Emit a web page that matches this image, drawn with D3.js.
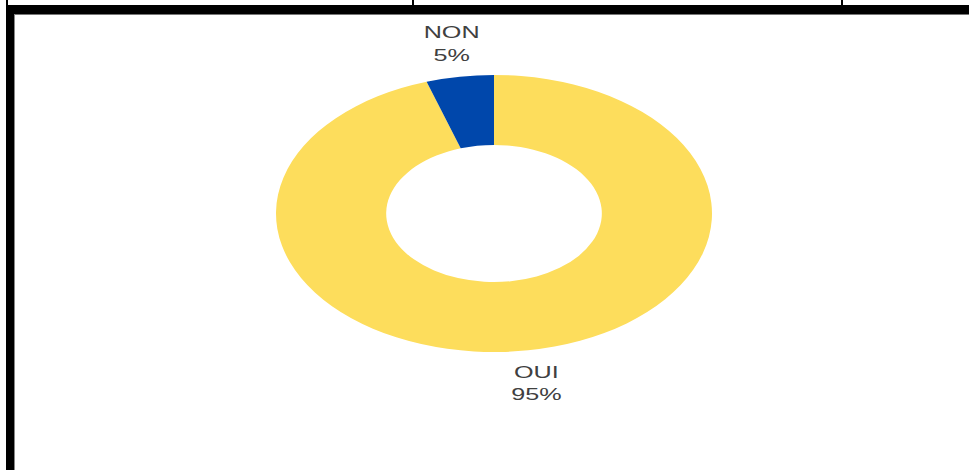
<!DOCTYPE html>
<html>
<head>
<meta charset="utf-8">
<script src="https://cdn.jsdelivr.net/npm/d3@7"></script>
<style>
  html, body { margin: 0; padding: 0; background: #fff; }
  svg { display: block; }
</style>
</head>
<body>
<svg id="chart" width="969" height="470"></svg>
<script>
const categories = ["OUI", "NON"];
const values = [95, 5];
const percentLabels = ["95%", "5%"];
const colors = ["#FDDD5C", "#0047AB"];

const W = 969, H = 470;
const svg = d3.select("#chart");

// frame (table borders)
svg.append("rect").attr("x", 0).attr("y", 0).attr("width", W).attr("height", H).attr("fill", "#fff");
[7, 413, 842].forEach(x => {
  svg.append("rect").attr("x", x - 1).attr("y", 0).attr("width", 2).attr("height", 6).attr("fill", "#000");
});
svg.append("rect").attr("x", 6).attr("y", 5).attr("width", W - 6).attr("height", 9).attr("fill", "#000");
svg.append("rect").attr("x", 14).attr("y", 14).attr("width", W - 14).attr("height", 1).attr("fill", "#777");
svg.append("rect").attr("x", 6).attr("y", 5).attr("width", 8).attr("height", H - 5).attr("fill", "#000");
svg.append("rect").attr("x", 14).attr("y", 14).attr("width", 1).attr("height", H - 14).attr("fill", "#888");

// donut (image is horizontally stretched)
const cx = 494, cy = 213.5;
const sx = 1.574;
const outerR = 138.5, innerR = 68.5;

const pie = d3.pie().sort(null).value(d => d.v);
const data = categories.map((c, i) => ({ c, v: values[i], p: percentLabels[i], col: colors[i] }));
const arcs = pie(data);
const arc = d3.arc().innerRadius(innerR).outerRadius(outerR);

const g = svg.append("g").attr("transform", `translate(${cx},${cy}) scale(${sx},1)`);
g.selectAll("path").data(arcs).enter().append("path")
  .attr("d", arc)
  .attr("fill", d => d.data.col);

// labels
const labelArc = d3.arc().innerRadius(172).outerRadius(172);
arcs.forEach(d => {
  const [lx, ly] = labelArc.centroid(d);
  const px = cx + lx * sx, py = cy + ly;
  const t = svg.append("text")
    .attr("transform", `translate(${px},${py}) scale(${sx},1)`)
    .attr("text-anchor", "middle")
    .attr("font-family", "Liberation Sans, Arial, sans-serif")
    .attr("font-size", 16)
    .attr("fill", "#404040");
  t.append("tspan").attr("x", 0).attr("y", -5.5).text(d.data.c);
  t.append("tspan").attr("x", 0).attr("y", 17).text(d.data.p);
});
</script>
</body>
</html>
